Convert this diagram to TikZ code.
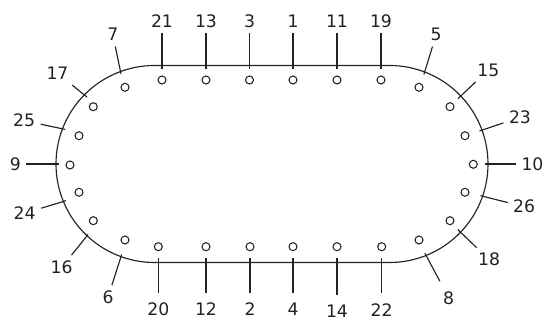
\documentclass[tikz,border=0pt]{standalone}
\usepackage{fontspec}
\setmainfont{DejaVu Sans}
\definecolor{tableInk}{HTML}{222222}

\begin{document}
\begin{tikzpicture}[x=0.02cm, y=-0.02cm,
        seat/.style={draw=tableInk, circle, minimum size=0.16cm, inner sep=0pt, line width=0.6pt},
        num/.style={text=tableInk, font=\fontsize{9.8}{11}\selectfont, inner sep=3pt},
        far/.style={num, inner sep=5.5pt},
        stub/.style={draw=tableInk, line width=0.65pt}
    ]
        \useasboundingbox (0,0) rectangle (549,320);

        \draw[stub] (154.5,65.5) -- (389.5,65.5) arc[start angle=-90, end angle=90, radius=98.5]
            -- (154.5,262.5) arc[start angle=90, end angle=270, radius=98.5] -- cycle;

        \node[seat] (s21) at (162,80) {};
        \node[seat] (s13) at (206,80) {};
        \node[seat] (s3) at (249.5,80) {};
        \node[seat] (s1) at (293,80) {};
        \node[seat] (s11) at (337,80) {};
        \node[seat] (s19) at (381,80) {};
        \node[seat] (s20) at (158.3,246.7) {};
        \node[seat] (s12) at (206,246.7) {};
        \node[seat] (s2) at (250,246.7) {};
        \node[seat] (s4) at (293,246.7) {};
        \node[seat] (s14) at (337,246.7) {};
        \node[seat] (s22) at (381.7,246.7) {};
        \node[seat] (s7) at (125,87.3) {};
        \node[seat] (s17) at (93.3,106.7) {};
        \node[seat] (s25) at (79,135.7) {};
        \node[seat] (s9) at (70,165) {};
        \node[seat] (s24) at (79,192.3) {};
        \node[seat] (s16) at (93.3,220.7) {};
        \node[seat] (s6) at (125,240) {};
        \node[seat] (s5) at (419,87.3) {};
        \node[seat] (s15) at (450,106.7) {};
        \node[seat] (s23) at (465,135.7) {};
        \node[seat] (s10) at (473.3,164.3) {};
        \node[seat] (s26) at (465,192.3) {};
        \node[seat] (s18) at (450,220.7) {};
        \node[seat] (s8) at (419,240) {};

        \node[num] (n21) at (162,21) {21};
        \node[num] (n13) at (206,21) {13};
        \node[num] (n3) at (249.5,21) {3};
        \node[num] (n1) at (293,21) {1};
        \node[num] (n11) at (337,21) {11};
        \node[num] (n19) at (381,21) {19};
        \node[far] (n20) at (158.3,309.3) {20};
        \node[far] (n12) at (206,309) {12};
        \node[far] (n2) at (250,309) {2};
        \node[far] (n4) at (293,309) {4};
        \node[far] (n14) at (337,311) {14};
        \node[far] (n22) at (381.7,309.7) {22};
        \node[num] (n7) at (112.8,34.5) {7};
        \node[num] (n17) at (57.5,73.3) {17};
        \node[num] (n25) at (24.2,120.7) {25};
        \node[num] (n9) at (15.3,164) {9};
        \node[num] (n24) at (24.7,213.3) {24};
        \node[num] (n16) at (61.7,267.3) {16};
        \node[num] (n6) at (108,297.3) {6};
        \node[num] (n5) at (436.2,34.5) {5};
        \node[num] (n15) at (488.3,70) {15};
        \node[num] (n23) at (520,117.3) {23};
        \node[num] (n10) at (532.5,164) {10};
        \node[num] (n26) at (524.2,206.7) {26};
        \node[num] (n18) at (489.2,259.7) {18};
        \node[far] (n8) at (448.7,297.8) {8};

        \coordinate (t21) at (162,69);
        \coordinate (t13) at (206,69);
        \coordinate (t3) at (249.5,69);
        \coordinate (t1) at (293,69);
        \coordinate (t11) at (337,69);
        \coordinate (t19) at (381,69);
        \coordinate (t20) at (158.3,258);
        \coordinate (t12) at (206,258);
        \coordinate (t2) at (250,258);
        \coordinate (t4) at (293,258);
        \coordinate (t14) at (337,258);
        \coordinate (t22) at (381.7,258);
        \coordinate (t7) at (121,73.8);
        \coordinate (t17) at (87.1,97.1);
        \coordinate (t25) at (65.1,129.4);
        \coordinate (t9) at (59,164);
        \coordinate (t24) at (66.1,200.6);
        \coordinate (t16) at (88.1,234.5);
        \coordinate (t6) at (121.7,254.5);
        \coordinate (t5) at (423.9,74.5);
        \coordinate (t15) at (457.8,98.8);
        \coordinate (t23) at (479.5,131);
        \coordinate (t10) at (485,164);
        \coordinate (t26) at (480.5,195.7);
        \coordinate (t18) at (457.8,229.6);
        \coordinate (t8) at (424.9,253.2);

        \draw[stub] (t21) -- (n21);
        \draw[stub] (t13) -- (n13);
        \draw[stub] (t3) -- (n3);
        \draw[stub] (t1) -- (n1);
        \draw[stub] (t11) -- (n11);
        \draw[stub] (t19) -- (n19);
        \draw[stub] (t20) -- (n20);
        \draw[stub] (t12) -- (n12);
        \draw[stub] (t2) -- (n2);
        \draw[stub] (t4) -- (n4);
        \draw[stub] (t14) -- (n14);
        \draw[stub] (t22) -- (n22);
        \draw[stub] (t7) -- (n7);
        \draw[stub] (t17) -- (n17);
        \draw[stub] (t25) -- (n25);
        \draw[stub] (t9) -- (n9);
        \draw[stub] (t24) -- (n24);
        \draw[stub] (t16) -- (n16);
        \draw[stub] (t6) -- (n6);
        \draw[stub] (t5) -- (n5);
        \draw[stub] (t15) -- (n15);
        \draw[stub] (t23) -- (n23);
        \draw[stub] (t10) -- (n10);
        \draw[stub] (t26) -- (n26);
        \draw[stub] (t18) -- (n18);
        \draw[stub] (t8) -- (n8);
    \end{tikzpicture}
\end{document}
